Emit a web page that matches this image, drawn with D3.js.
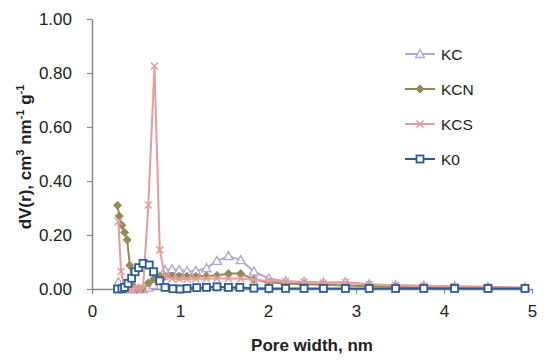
<!DOCTYPE html>
<html><head><meta charset="utf-8">
<script src="https://cdn.jsdelivr.net/npm/d3@7"></script>
<style>body{margin:0;background:#fff}svg{display:block}</style>
</head><body>
<svg id="c" width="550" height="361"></svg>
<script>
// ---- data ----
const seriesNames = ["KC", "KCN", "KCS", "K0"];
const kcX  = [0.30,0.33,0.37,0.41,0.45,0.49,0.53,0.58,0.64,0.70,0.77,0.83,0.91,0.99,1.08,1.18,1.30,1.42,1.55,1.69,1.84,2.01,2.20,2.41,2.63,2.88,3.15,3.45,3.77,4.12,4.50,4.92];
const kcY  = [0.025,0.003,0.0,0.0,0.0,0.0,0.0,0.0,0.005,0.015,0.045,0.070,0.073,0.070,0.066,0.067,0.077,0.104,0.122,0.107,0.065,0.038,0.029,0.026,0.024,0.025,0.018,0.014,0.012,0.010,0.008,0.006];
const kcnX = [0.29,0.31,0.34,0.37,0.40,0.43,0.47,0.51,0.57,0.64,0.70,0.77,0.83,0.91,0.99,1.08,1.18,1.30,1.42,1.55,1.69,1.84,2.01,2.20,2.41,2.63,2.88,3.15,3.45,3.77,4.12,4.50,4.92];
const kcnY = [0.310,0.270,0.236,0.210,0.182,0.087,0.010,0.0,0.0,0.022,0.037,0.047,0.048,0.048,0.047,0.047,0.047,0.048,0.050,0.057,0.057,0.035,0.025,0.020,0.018,0.016,0.013,0.010,0.008,0.006,0.005,0.004,0.003];
const kcsX = [0.30,0.33,0.37,0.41,0.45,0.49,0.53,0.58,0.64,0.71,0.77,0.83,0.91,0.99,1.08,1.18,1.30,1.42,1.55,1.69,1.84,2.01,2.20,2.41,2.63,2.88,3.15,3.45,3.77,4.12,4.50,4.92];
const kcsY = [0.250,0.065,0.003,0.002,0.002,0.002,0.003,0.004,0.311,0.826,0.145,0.045,0.038,0.037,0.037,0.038,0.038,0.039,0.039,0.038,0.034,0.030,0.028,0.026,0.022,0.024,0.016,0.013,0.011,0.009,0.007,0.005];
const k0X  = [0.29,0.34,0.37,0.41,0.45,0.49,0.53,0.58,0.65,0.70,0.77,0.83,0.92,1.00,1.08,1.19,1.30,1.42,1.55,1.68,1.84,2.01,2.20,2.41,2.63,2.88,3.15,3.45,3.77,4.12,4.50,4.92];
const k0Y  = [0.0,0.001,0.006,0.021,0.040,0.064,0.079,0.095,0.089,0.064,0.030,0.006,0.001,0.0,0.002,0.005,0.006,0.008,0.006,0.006,0.003,0.002,0.002,0.002,0.002,0.002,0.002,0.002,0.002,0.002,0.002,0.002];
const xTicks = [0,1,2,3,4,5];
const yTicks = [0,0.2,0.4,0.6,0.8,1.0];

// ---- layout ----
const svg = d3.select("#c");
const x = d3.scaleLinear().domain([0,5]).range([92,532]);
const y = d3.scaleLinear().domain([0,1]).range([289,19]);
const axisCol = "#8c8c8c";
const font = "'Liberation Sans', Arial, sans-serif";

const series = [
  {name:"KC",  xs:kcX,  ys:kcY,  color:"#b4a6d4", marker:"tri"},
  {name:"KCN", xs:kcnX, ys:kcnY, color:"#948a54", marker:"dia"},
  {name:"KCS", xs:kcsX, ys:kcsY, color:"#e59c9a", marker:"x"},
  {name:"K0",  xs:k0X,  ys:k0Y,  color:"#2d5b98", marker:"sq"}
];

// axes
const xa = svg.append("g").attr("transform","translate(0,289)")
  .call(d3.axisBottom(x).tickValues(xTicks).tickFormat(d3.format("d")).tickSize(5).tickSizeOuter(0));
const ya = svg.append("g").attr("transform","translate(92,0)")
  .call(d3.axisLeft(y).tickValues(yTicks).tickFormat(d3.format(".2f")).tickSize(5).tickSizeOuter(0));
[xa,ya].forEach(g=>{
  g.select(".domain").attr("stroke",axisCol).attr("stroke-width",1.5);
  g.selectAll(".tick line").attr("stroke",axisCol).attr("stroke-width",1.2);
  g.selectAll(".tick text").attr("fill","#222").style("font-family",font).style("font-size","17px");
});
xa.selectAll(".tick text").attr("y",16).attr("dy","0.71em");
ya.selectAll(".tick text").attr("x",-20).attr("dy","0.35em");

function drawMarker(g, type, color, cx, cy){
  if(type==="tri"){
    g.append("path").attr("d",`M${cx},${cy-4.5}L${cx+4.5},${cy+3.5}L${cx-4.5},${cy+3.5}Z`)
      .attr("fill","#fff").attr("stroke",color).attr("stroke-width",1.4);
  } else if(type==="dia"){
    g.append("path").attr("d",`M${cx},${cy-4}L${cx+4},${cy}L${cx},${cy+4}L${cx-4},${cy}Z`)
      .attr("fill",color).attr("stroke",color).attr("stroke-width",1);
  } else if(type==="x"){
    g.append("path").attr("d",`M${cx-3.5},${cy-3.5}L${cx+3.5},${cy+3.5}M${cx+3.5},${cy-3.5}L${cx-3.5},${cy+3.5}`)
      .attr("stroke",color).attr("stroke-width",1.5);
  } else {
    g.append("rect").attr("x",cx-3.5).attr("y",cy-3.5).attr("width",7).attr("height",7)
      .attr("fill","#fff").attr("stroke",color).attr("stroke-width",1.8);
  }
}

const line = d3.line().x(d=>x(d[0])).y(d=>y(d[1]));
series.forEach(s=>{
  const pts = s.xs.map((v,i)=>[v,s.ys[i]]);
  const g = svg.append("g");
  g.append("path").datum(pts).attr("d",line).attr("fill","none")
    .attr("stroke",s.color).attr("stroke-width",2).attr("stroke-linejoin","round");
  pts.forEach(p=>drawMarker(g,s.marker,s.color,x(p[0]),y(p[1])));
});

// legend
const legY = d3.scalePoint().domain(seriesNames).range([54,159]);
series.forEach(s=>{
  const g = svg.append("g");
  const ly = legY(s.name);
  g.append("line").attr("x1",405).attr("x2",435).attr("y1",ly).attr("y2",ly)
    .attr("stroke",s.color).attr("stroke-width",2);
  drawMarker(g,s.marker,s.color,420,ly);
  g.append("text").attr("x",441).attr("y",ly).attr("dy","0.36em")
    .style("font-family",font).style("font-size","15.5px").attr("fill","#222").text(s.name);
});

// axis titles
svg.append("text").attr("x",312).attr("y",351).attr("text-anchor","middle")
  .style("font-family",font).style("font-size","17px").style("font-weight","bold").attr("fill","#222")
  .text("Pore width, nm");
const yt = svg.append("text").attr("transform","translate(31,157) rotate(-90)").attr("text-anchor","middle")
  .style("font-family",font).style("font-size","17px").style("font-weight","bold").attr("fill","#222");
yt.append("tspan").text("dV(r), cm");
yt.append("tspan").attr("dy",-7).style("font-size","11px").text("3");
yt.append("tspan").attr("dy",7).text(" nm");
yt.append("tspan").attr("dy",-7).style("font-size","11px").text("-1");
yt.append("tspan").attr("dy",7).text(" g");
yt.append("tspan").attr("dy",-7).style("font-size","11px").text("-1");
</script>
</body></html>
